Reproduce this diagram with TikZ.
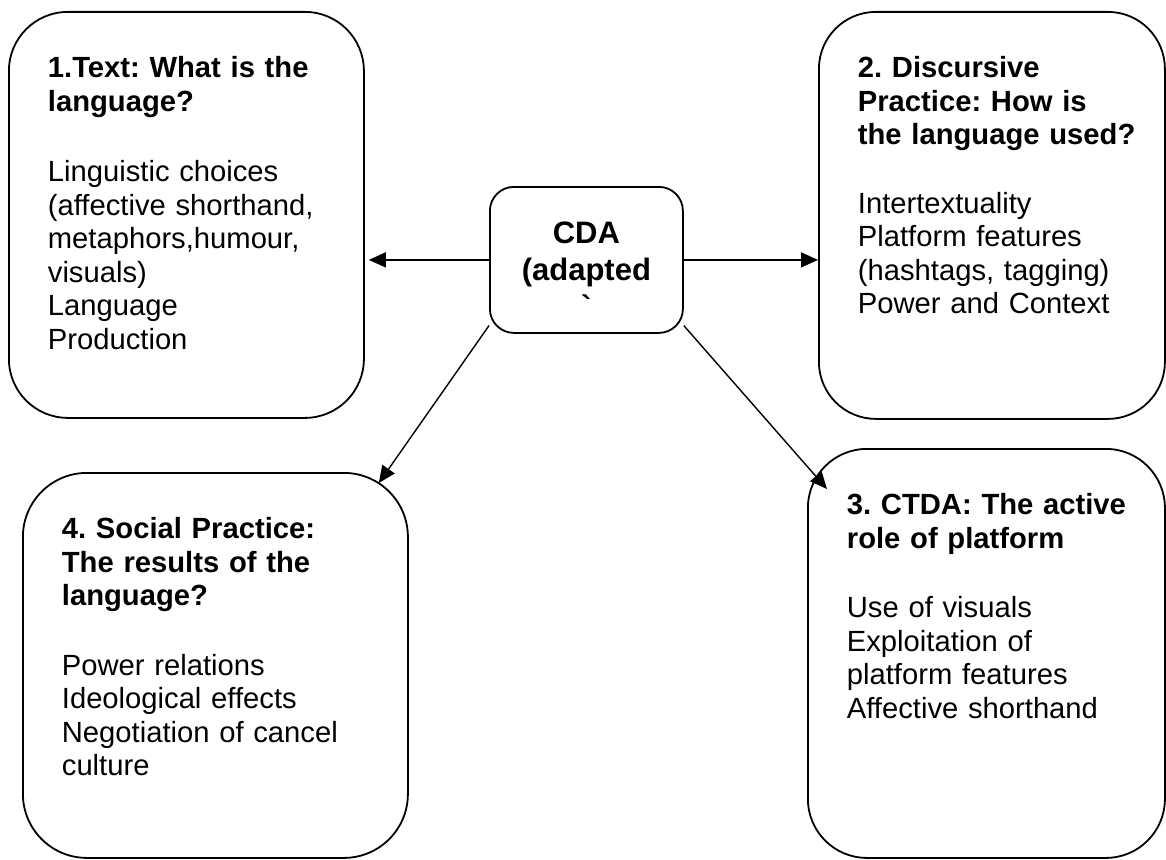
\documentclass[tikz,border=0pt]{standalone}
\usepackage{fontspec}
\setmainfont{Liberation Sans}
\frenchspacing
\usetikzlibrary{arrows.meta}

\begin{document}
\begin{tikzpicture}[
    x=1pt, y=-1pt,
    panel/.style={
        rectangle,
        draw,
        line width=1.8pt,
        anchor=north west,
        align=left,
        inner xsep=39pt,
        inner ysep=44pt,
        text height=22pt,
        font=\fontsize{29.2}{33.5}\selectfont
    },
    hub/.style={
        rectangle,
        rounded corners=24pt,
        draw,
        line width=1.8pt,
        anchor=north west,
        align=center,
        inner sep=0pt,
        text width=193pt,
        text height=57pt,
        text depth=89pt,
        font=\fontsize{31}{37}\selectfont\bfseries
    },
    arrow/.style={
        -{Triangle[length=17pt,width=15pt]},
        line width=1.4pt
    }
]

\useasboundingbox (0,0) rectangle (1166,859);
\clip (0,0) rectangle (1166,859);

\node[hub] (cda) at (489,186) {CDA\\(adapted\\\textasciigrave};

\node[panel, rounded corners=59pt, text width=277pt, text depth=296pt] (txt) at (8,11)
    {{\bfseries 1.Text: What is the\\language?}\\[37pt]
     Linguistic choices\\(affective shorthand,\\metaphors,humour,\\visuals)\\Language\\Production};

\node[panel, rounded corners=57pt, text width=268pt, text depth=297pt] (disc) at (818,11)
    {{\bfseries 2. Discursive\\Practice: How is\\\mbox{the language used?}}\\[35pt]
     Intertextuality\\Platform features\\(hashtags, tagging)\\Power and Context};

\node[panel, rounded corners=59pt, text width=279pt, text depth=299pt] (ctda) at (807,448)
    {{\bfseries \mbox{3. CTDA: The active}\\role of platform}\\[36pt]
     Use of visuals\\Exploitation of\\platform features\\Affective shorthand};

\node[panel, rounded corners=64pt, text width=307pt, text depth=275pt] (soc) at (22,472)
    {{\bfseries 4. Social Practice:\\The results of the\\language?}\\[36pt]
     Power relations\\Ideological effects\\Negotiation of cancel\\culture};

\draw[arrow, shorten >=4pt] (cda.west) -- (cda.west -| txt.east);
\draw[arrow] (cda.east) -- (cda.east -| disc.west);
\draw[arrow] (cda.214) -- ([xshift=-30pt, yshift=-11pt]soc.north east);
\draw[arrow] (cda.326) -- ([xshift=20pt, yshift=-41pt]ctda.north west);

\end{tikzpicture}
\end{document}
